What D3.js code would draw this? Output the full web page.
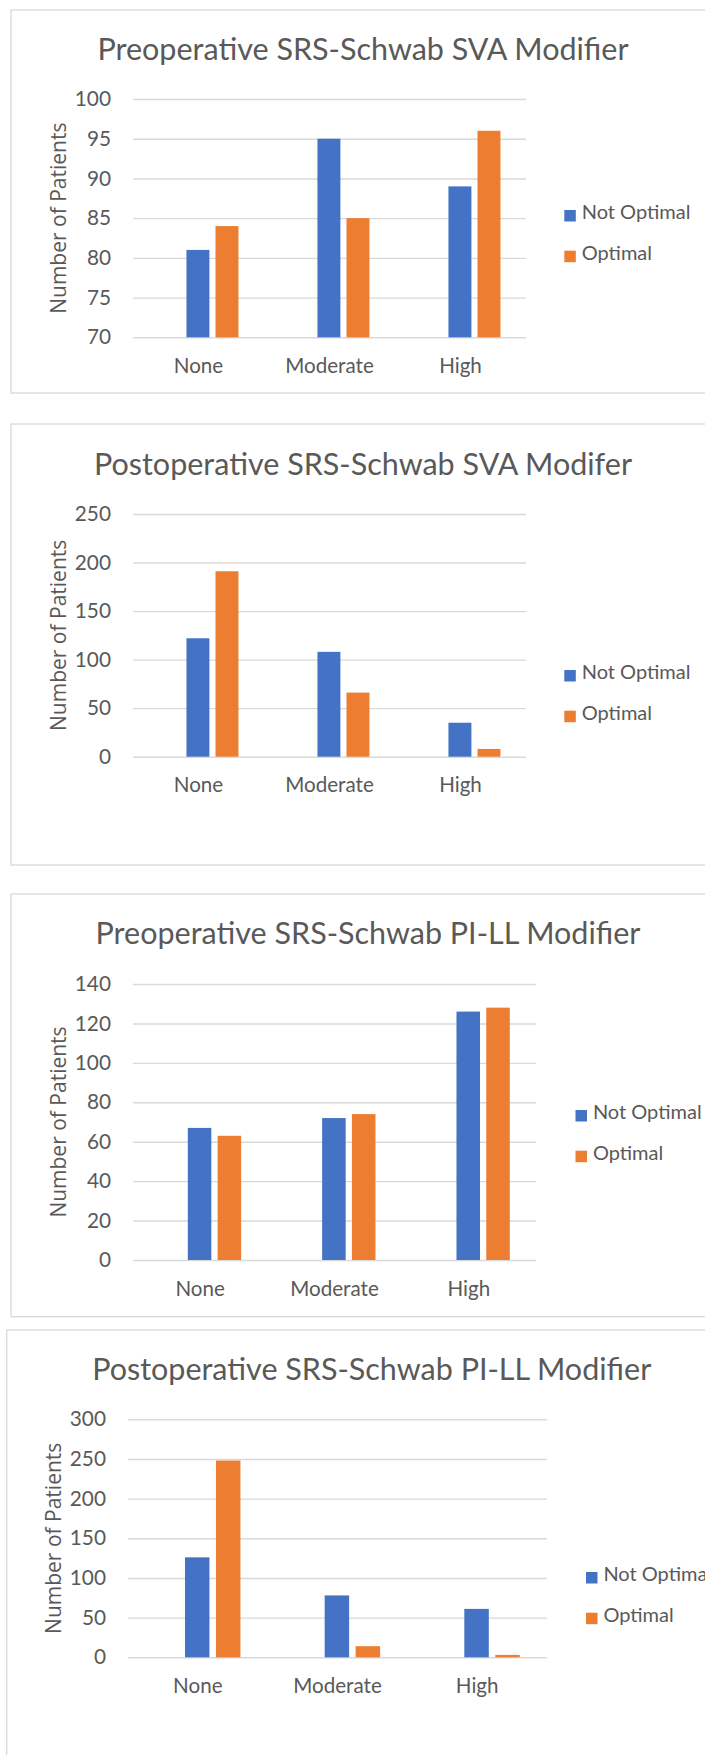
<!DOCTYPE html>
<html>
<head>
<meta charset="utf-8">
<script src="https://cdn.jsdelivr.net/npm/d3@7"></script>
<style>
  body { margin: 0; background: #fff; }
  svg { display: block; }
</style>
</head>
<body>
<div id="container"></div>
<script>
const width = 705;
const height = 1755;

//------------------DONNEES------------------//
const categories = ["None", "Moderate", "High"];
const seriesNames = ["Not Optimal", "Optimal"];
const colors = ["#4472C4", "#ED7D31"];

const preSvaNotOptimal = [81, 95, 89];
const preSvaOptimal = [84, 85, 96];
const preSvaTicks = [70, 75, 80, 85, 90, 95, 100];

const postSvaNotOptimal = [122, 108, 35];
const postSvaOptimal = [191, 66, 8];
const postSvaTicks = [0, 50, 100, 150, 200, 250];

const prePillNotOptimal = [67, 72, 126];
const prePillOptimal = [63, 74, 128];
const prePillTicks = [0, 20, 40, 60, 80, 100, 120, 140];

const postPillNotOptimal = [126, 78, 61];
const postPillOptimal = [248, 14, 3];
const postPillTicks = [0, 50, 100, 150, 200, 250, 300];

const titles = [
    "Preoperative SRS-Schwab SVA Modifier",
    "Postoperative SRS-Schwab SVA Modifer",
    "Preoperative SRS-Schwab PI-LL Modifier",
    "Postoperative SRS-Schwab PI-LL Modifier"
];
const yTitle = "Number of Patients";

//------------------MISE EN PAGE------------------//
const charts = [
    { title: titles[0], values: [preSvaNotOptimal, preSvaOptimal], ticks: preSvaTicks,
      frame: {x: 11, y: 10, b: 393}, titleX: 363, titleY: 59.5,
      plot: {l: 133, r: 526, t: 99, b: 337.3}, yTitleX: 57.5, legend: {x: 564.3, y: 219.3} },
    { title: titles[1], values: [postSvaNotOptimal, postSvaOptimal], ticks: postSvaTicks,
      frame: {x: 11, y: 424, b: 865}, titleX: 363, titleY: 475,
      plot: {l: 133, r: 526, t: 514, b: 756.7}, yTitleX: 58, legend: {x: 564.3, y: 679.3} },
    { title: titles[2], values: [prePillNotOptimal, prePillOptimal], ticks: prePillTicks,
      frame: {x: 11, y: 894, b: 1316.7}, titleX: 368, titleY: 944,
      plot: {l: 133, r: 536, t: 984, b: 1260}, yTitleX: 58, legend: {x: 575.5, y: 1119.3} },
    { title: titles[3], values: [postPillNotOptimal, postPillOptimal], ticks: postPillTicks,
      frame: {x: 6.7, y: 1330, b: 1820}, titleX: 371.7, titleY: 1380,
      plot: {l: 128, r: 547, t: 1419.3, b: 1657.3}, yTitleX: 53, legend: {x: 586, y: 1581.3} }
];

const textColor = "#595959";
const gridColor = "#D9D9D9";
const labelFont = "Lato, 'Liberation Sans', sans-serif";
const titleFont = "'Open Sans', 'Noto Sans', sans-serif";

const svg = d3.select("#container").append("svg")
    .attr("width", width)
    .attr("height", height);

charts.forEach(drawChart);

function drawChart(c) {
    const g = svg.append("g");

    // cadre
    g.append("rect")
        .attr("x", c.frame.x)
        .attr("y", c.frame.y)
        .attr("width", 900)
        .attr("height", c.frame.b - c.frame.y)
        .attr("fill", "none")
        .attr("stroke", gridColor)
        .attr("stroke-width", 1.3);

    //------------------ECHELLES------------------//
    const x0 = d3.scaleBand()
        .domain(categories)
        .range([c.plot.l, c.plot.r]);
    const bw = x0.bandwidth();
    const x1 = d3.scaleBand()
        .domain(seriesNames)
        .range([0.408 * bw, 0.805 * bw])
        .paddingInner(0.21);
    const yScale = d3.scaleLinear()
        .domain(d3.extent(c.ticks))
        .range([c.plot.b, c.plot.t]);

    //------------------AXES------------------//
    const yaxis = d3.axisLeft(yScale)
        .tickValues(c.ticks)
        .tickSize(-(c.plot.r - c.plot.l))
        .tickPadding(22);

    const ya = g.append("g")
        .attr("transform", "translate(" + c.plot.l + ",0)")
        .call(yaxis);
    ya.select(".domain").remove();
    ya.selectAll(".tick line")
        .attr("stroke", gridColor)
        .attr("stroke-width", 1.4);
    ya.selectAll(".tick text")
        .attr("fill", textColor)
        .style("font-family", labelFont)
        .style("font-size", "20.8px");

    const xaxis = d3.axisBottom(x0)
        .tickSize(0)
        .tickPadding(21);

    const xa = g.append("g")
        .attr("transform", "translate(0," + c.plot.b + ")")
        .call(xaxis);
    xa.select(".domain").remove();
    xa.selectAll(".tick text")
        .attr("fill", textColor)
        .style("font-family", labelFont)
        .style("font-size", "20.6px");

    //------------------BARRES------------------//
    const rows = categories.map(function(cat, i) {
        return seriesNames.map(function(s, j) {
            return {cat: cat, serie: s, value: c.values[j][i], color: colors[j]};
        });
    });

    g.selectAll("g.cat")
        .data(rows)
        .enter()
        .append("g")
        .attr("class", "cat")
        .selectAll("rect")
        .data(function(d) { return d; })
        .enter()
        .append("rect")
        .attr("x", function(d) { return x0(d.cat) + x1(d.serie); })
        .attr("y", function(d) { return yScale(d.value); })
        .attr("width", x1.bandwidth())
        .attr("height", function(d) { return c.plot.b - yScale(d.value); })
        .style("fill", function(d) { return d.color; });

    //------------------TITRES------------------//
    g.append("text")
        .attr("x", c.titleX)
        .attr("y", c.titleY)
        .attr("text-anchor", "middle")
        .attr("fill", textColor)
        .style("font-family", labelFont)
        .style("font-size", "30.5px")
        .text(c.title);

    g.append("text")
        .attr("transform", "translate(" + c.yTitleX + "," + ((c.plot.t + c.plot.b) / 2) + ") rotate(-90)")
        .attr("text-anchor", "middle")
        .attr("dominant-baseline", "central")
        .attr("fill", textColor)
        .style("font-family", titleFont)
        .style("font-size", "21px")
        .text(yTitle);

    //------------------LEGENDES------------------//
    g.selectAll("rect.leg")
        .data(seriesNames)
        .enter()
        .append("rect")
        .attr("class", "leg")
        .attr("x", c.legend.x)
        .attr("y", function(d, i) { return c.legend.y - 9.3 + i * 40.7; })
        .attr("width", 11.5)
        .attr("height", 11.5)
        .style("fill", function(d, i) { return colors[i]; });

    g.selectAll("text.leg")
        .data(seriesNames)
        .enter()
        .append("text")
        .attr("class", "leg")
        .attr("x", c.legend.x + 17.4)
        .attr("y", function(d, i) { return c.legend.y + i * 40.7; })
        .attr("fill", textColor)
        .style("font-family", labelFont)
        .style("font-size", "20px")
        .text(function(d) { return d; });
}
</script>
</body>
</html>
